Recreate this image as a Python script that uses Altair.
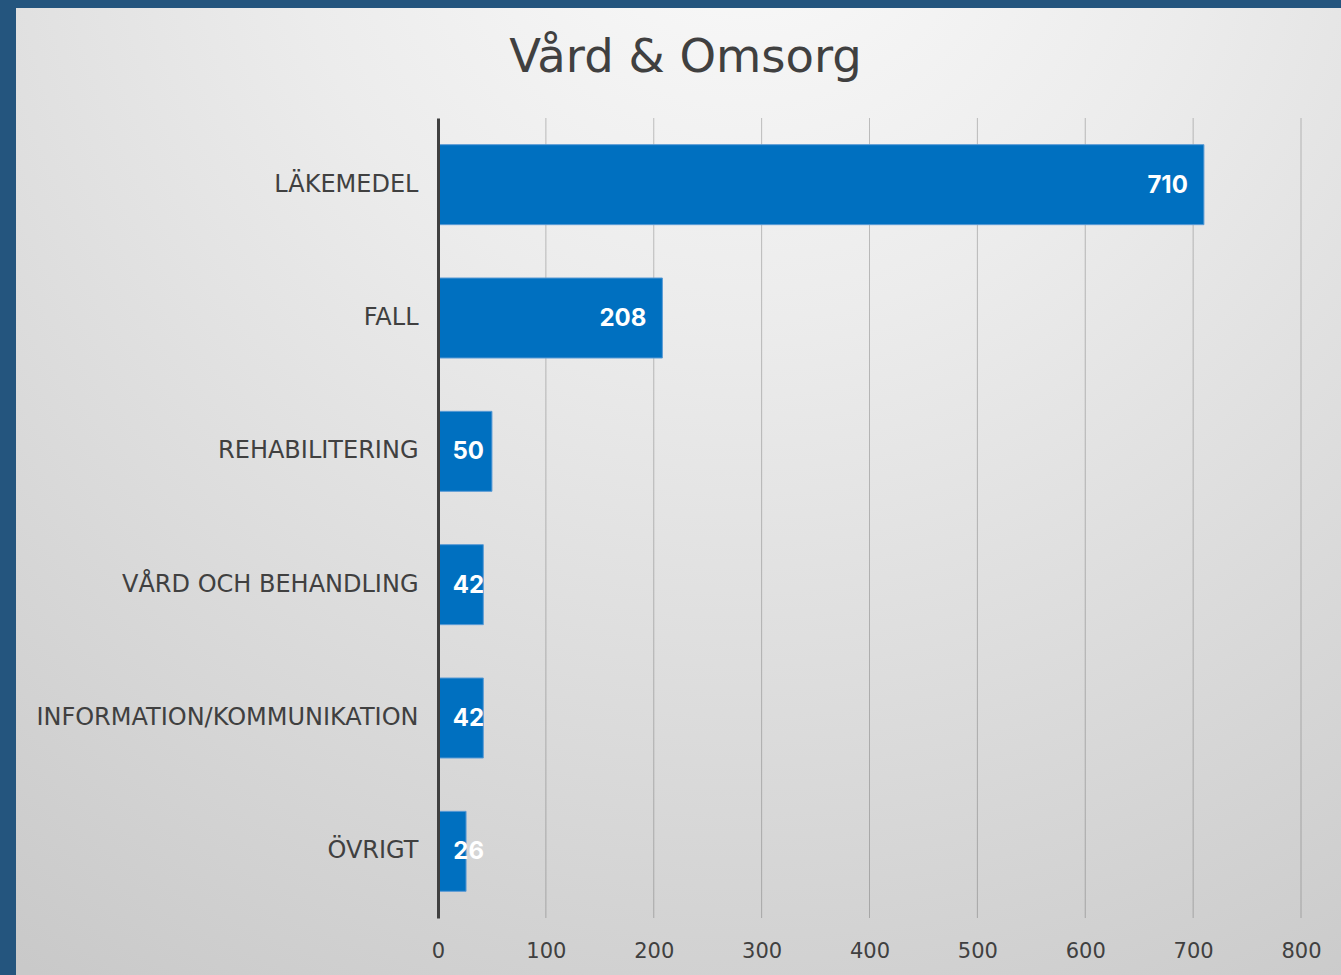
import altair as alt
import pandas as pd

categories = ["LÄKEMEDEL", "FALL", "REHABILITERING", "VÅRD OCH BEHANDLING\u00a0",
              "INFORMATION/KOMMUNIKATION", "ÖVRIGT"]
values = [710, 208, 50, 42, 42, 26]
x_ticks = [0, 100, 200, 300, 400, 500, 600, 700, 800]
title_text = "Vård & Omsorg"

df = pd.DataFrame({"category": categories, "value": values})
grid_df = pd.DataFrame({"tick": x_ticks[1:]})

bg_gradient = alt.RadialGradient(
    gradient="radial",
    stops=[alt.GradientStop(color="#fbfbfb", offset=0),
           alt.GradientStop(color="#ececec", offset=0.35),
           alt.GradientStop(color="#c9c9c9", offset=1)],
    x1=0.55, y1=0.02, r1=0,
    x2=0.55, y2=0.02, r2=1.0,
)

x_scale = alt.Scale(domain=[0, 800], nice=False)

bg = alt.Chart(pd.DataFrame({"a": [0]})).mark_rect(color=bg_gradient).encode(
    x=alt.value(-422), x2=alt.value(903), y=alt.value(-110), y2=alt.value(857)
)

grid = alt.Chart(grid_df).mark_rule(color="#404040", opacity=0.3, strokeWidth=1).encode(
    x=alt.X("tick:Q", scale=x_scale),
    y=alt.value(0), y2=alt.value(800),
)

y_enc = alt.Y(
    "category:N", sort=categories, title=None,
    scale=alt.Scale(paddingInner=0.4, paddingOuter=0.2),
    axis=alt.Axis(domain=True, domainColor="#404040", domainWidth=3,
                  ticks=False, tickSize=0, grid=False, labelPadding=20,
                  labelFont="DejaVu Sans", labelFontSize=24, labelColor="#404040",
                  labelLimit=0, zindex=1),
)

bars = alt.Chart(df).mark_bar(color="#0070C0", stroke="#5B9BD5", strokeWidth=1).encode(
    y=y_enc,
    x=alt.X("value:Q", title=None, scale=x_scale,
            axis=alt.Axis(values=x_ticks, domain=False, ticks=False, tickSize=0,
                          grid=False, labelPadding=22, labelFont="DejaVu Sans",
                          labelFontSize=21, labelColor="#404040", labelFlush=False,
                          zindex=1)),
)

labels = alt.Chart(df).transform_calculate(
    lx="max(datum.value, 57.5)"
).mark_text(align="right", baseline="middle", dx=-16, dy=1, color="white",
            font="Inter", fontWeight="bold", fontSize=24).encode(
    y=alt.Y("category:N", sort=categories),
    x=alt.X("lx:Q"),
    text=alt.Text("value:Q"),
)

chart = alt.layer(bg, grid, bars, labels).properties(
    width=863, height=800,
    title=alt.TitleParams(title_text, font="DejaVu Sans", fontSize=46.5, fontWeight="normal",
                          color="#404040", anchor="middle", frame="group", dx=-184,
                          offset=-110, baseline="alphabetic"),
    autosize=alt.AutoSizeParams(type="none"),
    padding={"left": 438, "top": 118, "right": 40, "bottom": 57},
    background="#24557E",
).configure_view(stroke=None)

chart.save("out.html", embed_options={"renderer": "svg", "actions": False})
